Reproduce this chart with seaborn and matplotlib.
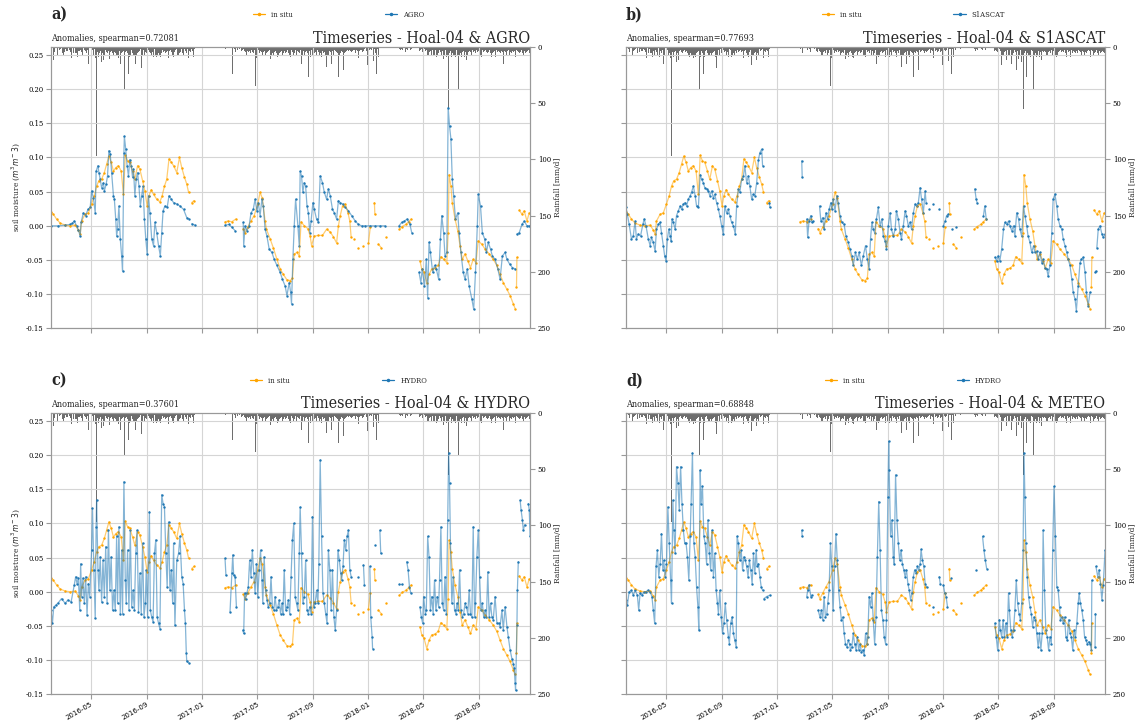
import numpy as np
import pandas as pd
import matplotlib
matplotlib.use('Agg')
import matplotlib.pyplot as plt
import matplotlib.dates as mdates
from matplotlib.lines import Line2D
import seaborn as sns

START = pd.Timestamp('2016-02-04')
END_DAY = 1052

# (day offset from START, anomaly); None = gap in the record
insitu = [(0,0.020),(5,0.017),(12,0.010),(20,0.004),(31,0.001),(42,0.000),(53,0.001),(60,-0.006),(64,-0.012),
 (67,0.007),(75,0.017),(82,0.019),(89,0.032),(95,0.044),(100,0.058),(105,0.066),(111,0.068),(117,0.078),
 (122,0.090),(127,0.102),(132,0.093),(137,0.080),(142,0.085),(148,0.088),(154,0.080),(159,0.046),(163,0.103),
 (168,0.095),(173,0.093),(179,0.080),(184,0.068),(190,0.088),(195,0.083),(201,0.066),(206,0.051),(211,0.029),
 (215,0.044),(220,0.053),(225,0.046),(232,0.039),(239,0.035),(244,0.044),(249,0.058),(254,0.068),(259,0.098),
 (264,0.093),(269,0.088),(276,0.078),(282,0.100),(287,0.085),(293,0.071),(298,0.061),(302,0.049),None,
 (309,0.034),(314,0.037),None,
 (382,0.006),(389,0.007),(397,0.006),(406,0.010),None,
 (422,-0.004),(426,-0.010),(432,-0.002),(439,0.007),(446,0.015),(454,0.032),(459,0.049),(464,0.040),(470,0.007),
 (473,-0.005),(481,-0.019),(488,-0.032),(496,-0.049),(503,-0.063),(510,-0.071),(518,-0.079),(525,-0.080),
 (530,-0.077),(534,-0.041),(540,-0.039),(545,-0.044),(549,0.006),(556,0.000),(564,-0.004),(569,-0.015),
 (572,-0.029),(578,-0.015),(587,-0.014),(596,-0.014),(605,-0.005),(613,-0.009),(620,-0.016),(627,-0.025),
 (631,0.000),(635,0.015),(640,0.029),(646,0.032),(652,0.019),(656,0.007),(659,-0.017),None,
 (666,-0.019),None,(675,-0.032),None,(686,-0.029),None,(697,-0.025),(701,-0.002),None,
 (710,0.034),(711,0.017),None,(719,-0.027),(725,-0.032),None,(735,-0.017),None,
 (765,-0.005),(771,-0.001),(779,0.002),(785,0.006),(791,0.010),None,
 (810,-0.051),(814,-0.063),(819,-0.068),(825,-0.083),(830,-0.071),(836,-0.063),(843,-0.062),(850,-0.058),
 (856,-0.045),(862,-0.049),(869,-0.054),(872,-0.010),(874,0.075),(878,0.058),(881,0.034),(887,0.010),
 (893,-0.007),(898,-0.029),(903,-0.049),(909,-0.041),(915,-0.051),(921,-0.061),(927,-0.049),(933,-0.054),
 (938,-0.022),(946,-0.027),(953,-0.034),(962,-0.041),(971,-0.049),(979,-0.058),(986,-0.071),(993,-0.083),
 (1001,-0.093),(1008,-0.102),(1015,-0.114),(1019,-0.121),None,
 (1022,-0.090),(1023,-0.046),None,
 (1028,0.023),(1034,0.017),(1039,0.022),(1045,0.007),(1050,0.019)]

agro = [(0,0.0),(16,0.0),(31,0.001),(42,0.002),(47,0.004),(51,0.007),(56,0.0),(60,-0.006),(64,-0.015),
 (66,0.005),(71,0.019),(76,0.015),(81,0.024),(86,0.027),(89,0.051),(93,0.041),(97,0.019),(99,0.080),
 (103,0.088),(105,0.078),(108,0.068),(111,0.056),(115,0.063),(117,0.051),(121,0.061),(124,0.073),
 (127,0.110),(130,0.105),(133,0.078),(137,0.044),(139,0.039),(142,0.010),(144,-0.015),(146,-0.005),
 (149,0.029),(152,-0.019),(155,-0.044),(157,-0.066),(160,0.107),(161,0.131),(164,0.112),(167,0.088),
 (170,0.073),(173,0.097),(176,0.088),(179,0.071),(181,0.083),(184,0.044),(187,0.068),(190,0.078),
 (193,0.058),(196,0.029),(199,0.044),(202,0.058),(205,0.010),(208,-0.019),(211,-0.041),(214,0.044),
 (217,0.019),(221,-0.019),(225,-0.029),(228,0.005),(232,-0.010),(236,-0.029),(240,-0.044),(243,-0.010),
 (246,0.022),(250,0.029),(255,0.027),(259,0.044),(264,0.039),(269,0.034),(276,0.032),(283,0.029),
 (291,0.024),(298,0.012),(303,0.010),None,(309,0.003),(316,0.001),None,
 (382,0.001),(391,0.002),(397,-0.002),(404,-0.007),None,
 (422,0.005),(423,-0.029),(426,0.0),(430,-0.007),(435,0.0),(439,0.019),(444,0.024),(448,0.039),(452,0.022),
 (455,0.034),(459,0.015),(463,0.039),(466,0.029),(470,-0.005),(474,-0.015),(479,-0.034),(485,-0.039),
 (490,-0.049),(496,-0.058),(503,-0.068),(508,-0.078),(514,-0.088),(518,-0.102),(523,-0.083),(526,-0.097),
 (528,-0.114),(531,-0.049),(534,0.0),(537,0.039),(542,0.0),(545,-0.029),(547,0.080),(550,0.073),
 (553,0.049),(556,0.063),(559,0.058),(562,0.029),(565,0.019),(568,-0.010),(571,0.007),(575,0.034),
 (578,0.024),(583,0.010),(587,0.005),(591,0.073),(596,0.063),(600,0.049),(605,0.039),(609,0.054),
 (613,0.044),(618,0.024),(622,0.019),(627,0.010),(631,0.037),(635,0.034),(640,0.032),(646,0.027),
 (653,0.022),(660,0.015),(668,0.007),(675,0.002),(682,0.0),(689,0.0),(701,0.0),(712,0.0),(722,0.0),
 (733,0.0),None,
 (764,0.0),(770,0.005),(776,0.007),(782,0.010),(788,0.002),(792,-0.010),None,
 (808,-0.068),(812,-0.083),(815,-0.063),(820,-0.088),(824,-0.049),(827,-0.105),(830,-0.024),(833,-0.039),
 (838,-0.068),(842,-0.058),(846,-0.063),(851,-0.078),(855,-0.019),(858,0.015),(862,-0.010),(865,-0.044),
 (869,-0.039),(872,0.173),(875,0.146),(878,0.127),(881,0.068),(884,0.044),(888,0.010),(893,0.019),
 (896,-0.010),(900,-0.039),(905,-0.068),(909,-0.078),(914,-0.063),(918,-0.088),(924,-0.107),(928,-0.122),
 (932,-0.068),(936,0.0),(938,0.046),(943,0.029),(947,-0.010),(952,-0.019),(956,-0.039),(960,-0.024),
 (965,-0.034),(969,-0.044),(975,-0.049),(981,-0.063),(986,-0.078),(991,-0.044),(997,-0.039),(1001,-0.049),
 (1007,-0.056),(1013,-0.061),(1019,-0.063),None,
 (1023,-0.012),(1028,-0.010),(1034,0.002),(1039,0.007),(1045,0.0),(1050,0.0)]

s1ascat = [(0,0.027),(3,0.017),(7,0.002),(12,-0.019),(16,-0.015),(20,0.007),(23,-0.019),(27,-0.012),
 (32,-0.015),(37,0.002),(40,0.010),(44,0.0),(49,-0.019),(53,-0.029),(56,-0.017),(60,-0.024),(64,-0.037),
 (67,-0.005),(71,0.002),(75,0.005),(78,-0.010),(82,-0.029),(85,-0.044),(88,-0.051),(91,-0.019),(94,-0.005),
 (97,-0.015),(99,-0.022),(101,0.010),(104,0.005),(108,-0.005),(111,0.015),(115,0.022),(119,0.029),
 (122,0.024),(126,0.032),(130,0.034),(133,0.029),(137,0.039),(141,0.044),(144,0.049),(148,0.058),
 (152,0.044),(155,0.029),(159,0.027),(163,0.075),(166,0.068),(170,0.063),(173,0.056),(177,0.054),
 (181,0.051),(184,0.044),(188,0.051),(192,0.041),(195,0.046),(199,0.034),(203,0.024),(206,0.015),
 (210,0.0),(214,-0.012),(217,0.029),(221,0.019),(225,0.024),(228,0.015),(232,0.005),(236,0.0),
 (240,-0.012),(243,0.029),(247,0.054),(250,0.049),(254,0.068),(258,0.073),(261,0.088),(265,0.063),
 (269,0.073),(272,0.058),(276,0.039),(280,0.046),(283,0.044),(287,0.063),(291,0.097),(294,0.107),
 (298,0.112),(300,0.088),None,(315,0.034),(316,0.027),None,
 (386,0.095),(387,0.071),None,
 (397,0.010),(399,-0.017),(402,0.007),(406,0.015),(408,0.005),(411,0.007),None,
 (425,0.029),(428,0.007),(432,0.012),(435,-0.005),(439,0.019),(443,0.010),(446,0.024),(450,0.034),
 (452,0.024),(455,0.039),(459,0.022),(463,0.044),(466,0.034),(470,0.015),(474,0.005),(479,0.002),
 (483,-0.015),(488,-0.024),(492,-0.034),(496,-0.044),(499,-0.058),(504,-0.039),(508,-0.049),(512,-0.039),
 (517,-0.058),(521,-0.044),(526,-0.029),(530,-0.049),(534,-0.063),(537,-0.019),(540,0.005),(543,-0.005),
 (546,-0.010),(550,0.010),(554,0.027),(558,0.0),(562,0.010),(565,-0.015),(569,-0.022),(572,-0.034),
 (576,0.0),(580,0.019),(583,-0.005),(587,-0.015),(591,-0.005),(594,0.022),(598,0.010),(602,-0.010),
 (605,-0.019),(609,0.0),(613,0.022),(616,0.015),(620,0.0),(624,0.005),(627,-0.005),(631,0.019),
 (635,0.032),(638,0.029),(642,0.034),(646,0.056),(649,0.039),(653,0.019),(657,0.051),(659,0.034),None,
 (666,0.024),None,(675,0.032),None,(688,0.024),None,
 (697,0.0),(701,0.007),(704,0.015),(708,0.017),None,(715,-0.005),None,(725,-0.002),None,
 (766,0.054),(769,0.039),(771,0.034),None,(785,0.015),(788,0.029),(791,0.010),None,
 (810,-0.046),(814,-0.051),(817,-0.044),(821,-0.051),(825,-0.034),(829,-0.005),(832,0.005),(836,0.002),
 (840,0.007),(843,0.0),(847,-0.007),(851,0.0),(854,-0.015),(858,0.019),(862,0.010),(865,-0.005),
 (869,-0.015),(873,0.029),(876,0.015),(880,0.0),(883,-0.015),(887,-0.024),(891,-0.039),(895,-0.029),
 (898,-0.039),(902,-0.037),(905,-0.049),(909,-0.039),(913,-0.054),(916,-0.049),(920,-0.061),(924,-0.063),
 (927,-0.074),(931,-0.058),(935,-0.010),(938,0.039),(942,0.046),(946,0.029),(949,0.010),(953,0.0),
 (957,-0.005),(960,-0.019),(964,-0.029),(968,-0.039),(971,-0.049),(975,-0.058),(979,-0.078),(982,-0.097),
 (986,-0.107),(989,-0.124),(993,-0.088),(997,-0.054),(1000,-0.049),(1004,-0.046),(1008,-0.068),
 (1011,-0.097),(1015,-0.117),(1019,-0.097),None,
 (1030,-0.068),(1032,-0.066),None,
 (1034,-0.032),(1037,-0.005),(1041,0.0),(1045,-0.012),(1048,-0.017),(1052,-0.012)]

hydro = [(0,-0.027),(3,-0.046),(6,-0.022),(10,-0.020),(16,-0.016),(23,-0.010),(31,-0.017),(37,-0.012),
 (44,-0.015),(51,0.010),(54,0.022),(57,0.012),(60,0.020),(63,-0.027),(65,0.041),(67,-0.007),(70,0.020),
 (73,-0.017),(76,0.022),(79,-0.034),(82,0.012),(85,-0.007),(89,0.061),(91,0.122),(94,0.032),(97,-0.039),
 (99,0.095),(100,0.134),(103,0.032),(105,0.002),(108,0.051),(111,-0.015),(114,0.046),(117,-0.007),
 (120,0.066),(123,-0.017),(126,0.090),(129,0.002),(132,0.051),(135,-0.027),(138,0.002),(141,-0.027),
 (144,0.081),(146,-0.017),(149,0.095),(152,-0.032),(155,0.061),(157,-0.032),(160,0.161),(163,0.017),
 (165,-0.017),(168,0.061),(171,-0.027),(174,0.090),(177,-0.022),(180,0.002),(183,-0.027),(186,0.056),
 (189,0.090),(192,-0.029),(195,0.027),(198,-0.032),(201,0.071),(204,-0.037),(207,-0.017),(209,0.032),
 (212,-0.037),(216,0.117),(218,-0.027),(221,-0.037),(224,-0.044),(227,0.056),(230,0.076),(233,-0.037),
 (236,-0.046),(239,-0.054),(243,0.142),(246,0.129),(249,0.124),(252,0.056),(255,0.007),(258,0.102),
 (261,0.002),(264,0.032),(267,-0.017),(269,0.071),(272,-0.049),(276,0.046),(280,0.056),(283,0.081),
 (287,0.022),(290,0.012),(293,-0.027),(295,-0.046),(297,-0.090),(298,-0.102),(302,-0.104),None,
 (382,0.049),(384,0.024),None,
 (393,-0.029),(397,0.027),(399,0.054),(401,0.024),(404,0.022),(407,-0.022),None,
 (421,-0.056),(423,-0.061),(425,-0.002),(427,-0.010),(430,-0.002),(433,0.007),(436,0.046),(439,0.022),
 (442,0.061),(445,0.027),(448,-0.002),(451,0.041),(454,-0.007),(457,0.032),(460,0.061),(463,0.017),
 (465,-0.017),(468,0.051),(471,0.002),(474,-0.012),(477,-0.022),(480,-0.017),(483,0.022),(486,-0.022),
 (489,-0.027),(492,-0.007),(495,-0.027),(498,-0.022),(501,-0.012),(504,-0.032),(507,-0.017),(509,-0.032),
 (512,0.032),(515,-0.027),(518,-0.022),(521,-0.012),(524,-0.032),(527,0.022),(530,0.076),(533,0.100),
 (536,-0.007),(539,-0.017),(542,-0.027),(545,0.056),(547,0.124),(550,0.056),(553,-0.017),(556,-0.007),
 (559,0.046),(562,-0.027),(565,-0.032),(568,-0.022),(571,-0.032),(574,0.110),(577,-0.022),(580,-0.017),
 (583,0.002),(586,-0.017),(588,0.041),(591,0.193),(594,0.081),(597,-0.002),(600,-0.017),(603,-0.032),
 (606,-0.046),(609,0.061),(612,0.032),(615,-0.027),(618,0.032),(621,-0.037),(624,-0.056),(627,-0.027),
 (630,0.061),(633,0.046),(636,0.027),(638,0.017),(641,0.037),(644,0.076),(647,0.061),(650,0.081),
 (653,0.090),(656,0.032),(659,0.022),None,
 (673,0.022),None,(686,0.039),(688,0.010),None,
 (700,0.037),(702,-0.037),(705,-0.066),(706,-0.083),None,(711,0.068),None,(722,0.090),(724,0.056),None,
 (765,0.012),(770,0.012),None,(781,0.044),(784,0.032),(787,0.007),(790,-0.002),None,
 (810,-0.022),(813,-0.037),(816,-0.046),(818,-0.007),(822,-0.032),(824,-0.027),(827,0.081),(830,0.051),
 (833,-0.027),(836,-0.007),(839,-0.032),(842,0.017),(845,-0.027),(848,-0.007),(851,-0.022),(853,0.017),
 (856,0.095),(859,-0.017),(862,-0.027),(865,0.022),(868,-0.032),(871,0.105),(873,0.203),(875,0.159),
 (877,0.071),(880,-0.017),(883,0.022),(886,-0.027),(889,-0.032),(891,-0.017),(894,-0.027),(897,0.032),
 (900,-0.027),(903,-0.037),(906,-0.032),(909,-0.017),(912,-0.022),(915,-0.032),(918,0.002),(921,-0.032),
 (924,-0.037),(927,0.095),(930,-0.037),(932,-0.017),(935,0.051),(938,0.090),(941,0.022),(944,-0.027),
 (947,-0.017),(950,-0.037),(953,-0.027),(956,-0.037),(959,0.029),(962,-0.037),(965,-0.017),(968,-0.037),
 (971,-0.041),(975,-0.007),(979,-0.046),(983,-0.046),(986,-0.051),(990,-0.027),(993,-0.056),(997,-0.022),
 (1001,-0.051),(1004,-0.066),(1008,-0.085),(1012,-0.098),(1015,-0.105),(1017,-0.112),(1019,-0.134),
 (1020,-0.144),(1023,-0.049),(1024,0.002),(1026,0.044),None,
 (1030,0.134),(1032,0.120),(1035,0.105),(1037,0.090),(1040,0.098),None,
 (1048,0.129),(1050,0.120),(1052,0.081)]

meteo = [(0,-0.012),(3,-0.020),(7,0.0),(12,0.002),(16,-0.005),(20,0.002),(25,-0.005),(28,-0.027),
 (31,-0.002),(35,-0.005),(40,0.0),(44,0.0),(48,0.002),(53,0.0),(57,-0.007),(60,-0.027),(63,-0.046),
 (66,0.037),(69,0.061),(72,0.022),(75,0.041),(78,0.085),(81,0.032),(83,0.046),(86,0.022),(89,0.041),
 (92,0.124),(95,0.071),(98,0.017),(100,-0.017),(103,0.134),(105,0.090),(108,0.056),(111,0.183),
 (114,0.159),(117,0.120),(120,0.183),(123,0.129),(126,0.090),(129,0.071),(132,0.071),(135,0.051),
 (138,0.017),(141,0.081),(143,0.129),(146,0.203),(149,0.071),(152,0.051),(155,0.007),(158,-0.022),
 (160,-0.056),(163,0.178),(165,0.129),(168,0.154),(171,0.081),(174,0.071),(177,0.041),(180,0.105),
 (183,0.056),(186,0.032),(189,0.090),(192,0.022),(195,0.056),(198,0.002),(201,-0.017),(203,-0.032),
 (206,0.002),(209,-0.037),(212,-0.061),(215,-0.046),(218,-0.017),(221,-0.041),(225,-0.066),(227,-0.076),
 (230,-0.046),(233,-0.037),(236,-0.061),(239,-0.071),(242,-0.081),(244,0.081),(247,0.071),(250,0.046),
 (253,0.061),(256,0.032),(259,0.051),(262,0.046),(265,0.037),(268,0.022),(271,0.046),(274,0.032),
 (277,0.012),(280,0.056),(283,0.027),(286,0.061),(288,0.037),(291,0.041),(294,0.022),(297,0.007),
 (300,0.002),None,(303,-0.010),(309,-0.007),(316,-0.005),None,
 (386,0.090),(387,0.081),None,
 (397,-0.007),(399,0.002),(402,0.010),(406,-0.007),(408,-0.005),None,
 (422,-0.027),(426,-0.037),(429,-0.027),(432,-0.041),(435,-0.007),(438,-0.037),(441,-0.032),(443,-0.017),
 (446,0.002),(449,0.071),(452,0.037),(455,-0.027),(458,0.037),(461,0.085),(464,0.046),(467,0.002),
 (470,-0.022),(473,-0.041),(476,-0.037),(479,-0.061),(482,-0.076),(485,-0.081),(488,-0.071),(491,-0.076),
 (493,-0.085),(496,-0.081),(499,-0.061),(502,-0.076),(505,-0.085),(508,-0.066),(511,-0.085),(514,-0.076),
 (517,-0.088),(520,-0.085),(523,-0.093),(526,-0.061),(529,-0.076),(531,-0.066),(534,-0.007),(537,-0.022),
 (540,-0.002),(543,-0.041),(546,-0.076),(549,-0.037),(552,0.051),(555,0.132),(558,0.061),(561,-0.027),
 (564,-0.041),(567,-0.066),(570,-0.076),(572,-0.041),(575,0.139),(577,0.220),(578,0.178),(581,0.081),
 (584,0.105),(587,0.051),(589,0.041),(592,0.171),(595,0.105),(598,0.071),(601,0.046),(604,0.061),
 (607,0.041),(610,0.032),(613,0.022),(616,0.032),(619,0.012),(622,0.002),(625,-0.012),(628,-0.002),
 (631,0.022),(634,0.032),(637,0.027),(640,0.037),(643,0.032),(646,0.041),(648,0.062),(651,0.046),
 (654,0.037),(657,0.012),(660,0.007),None,
 (675,-0.022),None,(688,0.022),(690,0.012),None,
 (697,0.010),(700,-0.002),(703,-0.007),(706,-0.022),None,(713,0.020),None,
 (768,0.032),None,(783,0.081),(786,0.061),(789,0.046),(792,0.034),None,
 (810,-0.046),(813,-0.066),(816,-0.085),(820,-0.041),(822,-0.056),(825,-0.066),(828,-0.041),(831,-0.066),
 (834,-0.046),(837,-0.066),(840,-0.002),(842,-0.027),(845,-0.056),(848,-0.066),(851,-0.056),(854,-0.027),
 (857,0.017),(860,-0.017),(863,-0.032),(866,-0.041),(869,-0.017),(872,0.061),(874,0.203),(876,0.139),
 (878,0.071),(881,0.022),(884,-0.007),(887,-0.022),(890,-0.032),(893,-0.051),(896,-0.037),(899,-0.041),
 (902,-0.061),(905,-0.081),(908,-0.061),(911,-0.085),(914,-0.061),(916,0.090),(919,0.002),(922,-0.056),
 (925,-0.066),(928,-0.085),(931,-0.066),(934,-0.076),(937,0.061),(940,0.154),(943,0.081),(946,0.007),
 (949,0.002),(952,-0.022),(954,-0.041),(957,-0.037),(960,-0.046),(963,-0.037),(966,-0.066),(969,-0.071),
 (972,-0.041),(975,-0.061),(978,-0.066),(981,-0.085),(984,-0.056),(987,-0.066),(990,-0.046),(993,-0.017),
 (995,-0.002),(998,-0.017),(1001,-0.027),(1004,-0.041),(1007,-0.066),(1010,-0.071),(1013,-0.076),
 (1016,-0.073),(1019,-0.076),(1022,-0.085),(1023,0.017),None,
 (1030,-0.081),(1031,-0.032),None,
 (1032,0.037),(1036,0.022),(1039,0.032),(1042,0.012),(1045,-0.012),(1048,0.010),(1052,0.061)]

# daily rainfall [mm/d], one list per stretch of record: (first day offset, daily values)
rain_2016 = (0, [3,0,4,1,6,12,2,0,5,6, 1,3,0,3,7,2,0,4,25,3, 0,2,5,1,0,6,2,8,0,3, 5,15,2,0,4,1,4,6,0,2,
 7,3,0,5,2,10,4,1,0,6, 3,0,2,5,6,1,6,3,9,0, 4,2,4,7,1,3,19,5,2,8, 5,0,6,3,9,27,4,2,6,8,
 3,5,15,6,1,7,6,0,4,9, 11,3,5,8,7,2,6,4,10,3, 97,40,5,8,9,3,6,5,11,4, 7,14,3,6,9,12,5,8,4,6,
 3,9,5,10,6,8,4,7,11,3, 18,5,9,4,8,6,3,7,12,5, 9,4,6,80,7,3,8,6,10,5, 4,7,15,9,3,6,9,5,8,4,
 6,38,7,5,9,11,4,8,6,3, 24,5,9,6,7,4,10,3,13,6, 5,8,3,7,4,15,6,9,8,4, 6,3,5,8,4,7,2,9,5,19,
 4,8,9,3,6,7,37,5,2,8, 6,4,11,7,3,9,5,33,6,4, 8,7,3,5,4,9,6,2,15,7, 3,6,9,4,8,5,6,3,7,5,
 9,4,43,6,8,3,8,5,7,4, 24,6,3,8,5,9,4,7,10,6, 4,12,3,8,5,6,2,7,4,9, 4,5,8,3,6,2,16,4,7,5,
 7,3,6,4,5,8,2,12,4,6, 3,7,8,2,5,4,4,6,3,5, 2,6,10,3,4,2,5,3,2,3, 1,4,2,9,0,2])
rain_2017 = (382, [0,2,0,0,3,0,6,1,0,4, 0,2,0,1,0,0,24,3,0,1, 0,2,0,5,0,0,1,3,0,3, 0,0,2,0,1,0,4,0,3,5,
 6,2,7,4,18,5,3,8,6,4, 7,3,5,9,4,27,6,8,3,9, 5,7,4,6,8,3,9,35,6,10, 4,8,7,5,3,9,6,27,4,8,
 5,12,7,3,9,5,6,4,9,7, 3,6,18,5,8,4,6,9,3,7, 11,5,8,3,6,4,7,9,8,5, 15,4,7,6,3,9,5,8,10,4,
 6,21,5,9,4,7,8,3,6,5, 9,4,7,6,12,5,8,3,24,6, 8,4,7,5,9,6,3,34,5,9, 7,4,43,6,8,3,5,7,6,4,
 12,5,8,4,6,9,3,7,15,5, 8,6,4,9,3,7,6,5,8,4, 11,6,9,27,5,8,4,7,9,6, 3,5,8,4,7,13,6,9,18,5,
 4,8,7,3,6,5,10,8,4,31, 6,3,9,5,4,7,6,9,5,3, 4,7,5,18,6,8,3,7,9,4, 6,11,5,3,15,7,4,6,8,5,
 3,9,6,4,8,5,3,6,7,27, 4,8,5,3,6,12,4,7,5,6, 21,4,6,3,8,5,6,4,9,3, 5,4,7,3,6,12,4,2,5,3,
 4,2,3,5,3,2,4,6,2,3, 2,4,3,10,2,4,1,3,4,2, 3,1,5,2,4,7,2,3,1,5, 2,4,3,16,2,5,1,3,5,2,
 4,2,3,5,1,6,13,3,2,4, 6,2,3,24,4,2,5,9,3,1, 2,0,3,1,0,2,0,1,0,5, 0,1,0,2])
rain_2018a = (764, [7,2,0,3,4,1,2,0,3,0, 1,3,0,2,5,0,9,2,1,3, 5,0,2,1,7,3,0,2,1])
rain_2018b = (808, [2,4,1,3,6,2,4,3,5,9, 3,5,2,6,4,7,3,16,5,8, 4,7,3,5,6,4,2,8,12,5, 3,6,8,4,7,5,3,6,9,15,
 5,8,4,6,9,3,7,5,4,8, 21,6,4,9,11,5,8,7,3,6, 9,14,5,7,4,55,8,6,18,4, 7,9,27,5,6,10,8,4,7,6,
 9,5,3,13,7,4,6,38,5,8, 8,6,4,9,11,5,7,18,4,6, 9,7,5,3,12,6,8,4,24,5, 7,4,9,5,6,8,6,3,7,15,
 5,8,4,7,6,9,3,11,5,7, 33,4,6,8,5,7,4,9,6,3, 8,18,5,7,4,6,3,9,5,10, 6,4,24,5,8,3,7,6,4,9,
 4,6,3,12,5,8,4,6,9,5, 3,7,5,6,19,4,8,5,3,6, 7,4,9,5,6,15,3,8,4,6, 5,3,7,12,4,6,3,5,4,8,
 8,5,3,6,18,4,7,5,3,6, 4,8,9,5,3,6,4,33,5,7, 3,6,4,5,8,3,15,6,4,7, 8,5,4,21,6,3,5,7,4,6,
 3,5,58,6,9])

letters = ['a)', 'b)', 'c)', 'd)']
titles = ['Timeseries - Hoal-04 & AGRO', 'Timeseries - Hoal-04 & S1ASCAT',
          'Timeseries - Hoal-04 & HYDRO', 'Timeseries - Hoal-04 & METEO']
legend_names = ['AGRO', 'S1ASCAT', 'HYDRO', 'HYDRO']
spearman = ['0.72081', '0.77693', '0.37601', '0.68848']
products = [agro, s1ascat, hydro, meteo]

ORANGE = '#FFA500'
BLUE = '#1f77b4'


def to_frame(points):
    days, vals, segs = [], [], []
    seg = 0
    for p in points:
        if p is None:
            seg += 1
            continue
        days.append(p[0]); vals.append(p[1]); segs.append(seg)
    return pd.DataFrame({'date': START + pd.to_timedelta(days, unit='D'),
                         'value': vals, 'seg': segs})


rain_days, rain_vals = [], []
for first, vals in (rain_2016, rain_2017, rain_2018a, rain_2018b):
    for k, v in enumerate(vals):
        rain_days.append(first + k)
        rain_vals.append(v)
rain_dates = START + pd.to_timedelta(rain_days, unit='D')

sns.set_style('ticks')
plt.rcParams['font.family'] = ['DejaVu Serif']
plt.rcParams['font.stretch'] = 'condensed'
plt.rcParams['axes.unicode_minus'] = True

fig = plt.figure(figsize=(11.37, 7.24), dpi=100)
gs = fig.add_gridspec(2, 2, left=0.0449, right=0.9719, top=0.9355, bottom=0.0410,
                      wspace=0.2, hspace=0.299)

ins_df = to_frame(insitu)

for i in range(4):
    ax = fig.add_subplot(gs[i // 2, i % 2])
    ax2 = ax.twinx()
    ax2.bar(rain_dates, rain_vals, width=1.0, color='#4a4a4a', alpha=0.8, linewidth=0)
    ax2.set_ylim(250, 0)
    ax2.set_yticks([0, 50, 100, 150, 200, 250])
    ax2.set_ylabel('Rainfall [mm/d]', fontsize=6, labelpad=2)
    ax2.tick_params(labelsize=5.5, colors='#999999', labelcolor='black', length=3.5, width=0.8, pad=2)

    ax.set_zorder(ax2.get_zorder() + 1)
    ax.patch.set_visible(False)

    prod_df = to_frame(products[i])
    for df, col in [(ins_df, ORANGE), (prod_df, BLUE)]:
        sns.lineplot(data=df, x='date', y='value', units='seg', estimator=None,
                     color=col, linewidth=0.9, alpha=0.55, ax=ax, legend=False)
        sns.scatterplot(data=df, x='date', y='value', color=col, s=3, linewidth=0,
                        ax=ax, legend=False)

    ax.set_xlim(START, START + pd.Timedelta(days=END_DAY))
    ax.set_ylim(-0.15, 0.262)
    ax.set_yticks(np.arange(-0.15, 0.26, 0.05))
    ax.yaxis.set_major_formatter(matplotlib.ticker.FormatStrFormatter('%.2f'))
    ax.xaxis.set_major_locator(mdates.MonthLocator(bymonth=[1, 5, 9]))
    ax.xaxis.set_major_formatter(mdates.DateFormatter('%Y-%m'))
    ax.grid(True, color='#d5d5d5', linewidth=0.8)
    ax.tick_params(axis='y', labelsize=5.5, colors='#999999', labelcolor='black', length=3.5, width=0.8, pad=2)
    ax.tick_params(axis='x', labelsize=5, colors='#999999', labelcolor='black', length=3.5, width=0.8, pad=1.5)
    ax.set_xlabel('')
    if i % 2 == 0:
        ax.set_ylabel('soil moisture ($m^3m^-3$)', fontsize=6, labelpad=3)
    else:
        ax.set_ylabel('')
        ax.tick_params(labelleft=False)
    if i < 2:
        ax.tick_params(labelbottom=False)
    else:
        for lab in ax.get_xticklabels():
            lab.set_rotation(30)
            lab.set_ha('right')
            lab.set_rotation_mode('anchor')
            lab.set_family(['DejaVu Sans'])
            lab.set_stretch('normal')
    for a in (ax, ax2):
        for sp in a.spines.values():
            sp.set_color('#999999')
            sp.set_linewidth(0.8)

    ax.set_title(titles[i], loc='right', fontsize=11.5, pad=3)
    ax.text(0, 1.012, 'Anomalies, spearman=' + spearman[i], transform=ax.transAxes,
            fontsize=6.5, ha='left', va='bottom')
    ax.text(0, 1.112, letters[i], transform=ax.transAxes, fontsize=11.5,
            fontweight='bold', ha='left', va='center')
    handles = [Line2D([], [], color=ORANGE, marker='.', markersize=3, linewidth=0.9),
               Line2D([], [], color=BLUE, marker='.', markersize=3, linewidth=0.9)]
    ax.legend(handles, ['in situ', legend_names[i]], loc='center', bbox_to_anchor=(0.6, 1.112),
              ncol=2, frameon=False, fontsize=5.5, columnspacing=12, handlelength=1.6,
              handletextpad=0.8)

fig.savefig('out.png', dpi=100)
